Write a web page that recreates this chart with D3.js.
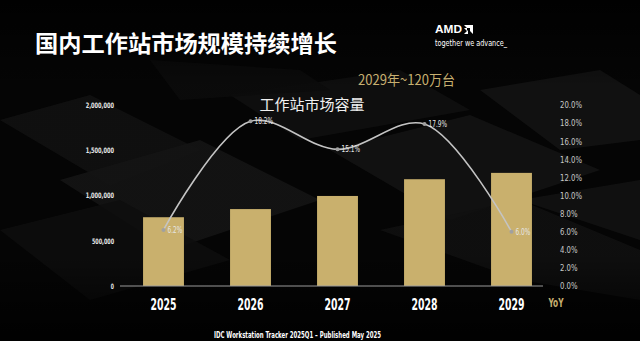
<!DOCTYPE html>
<html><head><meta charset="utf-8">
<script src="https://cdn.jsdelivr.net/npm/d3@7/dist/d3.min.js"></script>
<style>html,body{margin:0;padding:0;background:#050505;}svg{display:block;}</style>
</head><body>
<script>
const years = ["2025","2026","2027","2028","2029"];
const volume = [760000, 850000, 995000, 1180000, 1250000];
const yoy = [6.2, 18.2, 15.1, 17.9, 6.0];
const leftTicks = [0, 500000, 1000000, 1500000, 2000000];
const rightTicks = [0,2,4,6,8,10,12,14,16,18,20];

const W = 640, H = 341;
const NARROW = "DejaVu Sans Condensed, Liberation Sans";
const svg = d3.select("body").append("svg").attr("width", W).attr("height", H);

// background
svg.append("rect").attr("width", W).attr("height", H).attr("fill", "#060606");
const bg = svg.append("g");
const slabs = [
  [[0,120],[90,95],[200,150],[110,185]],
  [[60,180],[200,140],[320,200],[170,250]],
  [[230,95],[400,70],[470,110],[300,140]],
  [[330,150],[470,115],[600,170],[450,220]],
  [[480,90],[600,70],[640,95],[640,140],[560,150]],
  [[0,230],[120,200],[230,260],[90,300]],
  [[380,230],[520,200],[640,250],[640,300],[520,280]],
  [[150,60],[300,70],[330,90],[180,100]],
  [[520,200],[640,180],[640,240]]
];
const fills = ["#151515","#191919","#131313","#171717","#171717","#111111","#141414","#0e0e0e","#161616"];
slabs.forEach((p,i)=>{
  bg.append("polygon").attr("points", p.map(d=>d.join(",")).join(" "))
    .attr("fill", fills[i]).attr("opacity", 0.9);
});
const grad = svg.append("defs").append("linearGradient").attr("id","fade").attr("x1",0).attr("x2",0).attr("y1",0).attr("y2",1);
grad.append("stop").attr("offset","0").attr("stop-color","#000").attr("stop-opacity",0.85);
grad.append("stop").attr("offset","0.25").attr("stop-color","#000").attr("stop-opacity",0.2);
grad.append("stop").attr("offset","0.75").attr("stop-color","#000").attr("stop-opacity",0.2);
grad.append("stop").attr("offset","1").attr("stop-color","#000").attr("stop-opacity",0.9);
svg.append("rect").attr("width",W).attr("height",H).attr("fill","url(#fade)");

// titles
svg.append("text").attr("x", 35).attr("y", 52).text("国内工作站市场规模持续增长")
  .attr("font-family", "Noto Sans CJK SC").attr("font-weight", "bold").attr("font-size", 23)
  .attr("fill", "#fff").attr("textLength", 302).attr("lengthAdjust","spacingAndGlyphs");

// AMD logo
svg.append("text").attr("x", 435).attr("y", 33).text("AMD")
  .attr("font-family", "Liberation Sans").attr("font-weight", "bold").attr("font-size", 11).attr("fill", "#fff")
  .attr("textLength", 27).attr("lengthAdjust","spacingAndGlyphs");
svg.append("path").attr("d", "M464,25 h9 v9 l-3,-3 v-3 h-3 z M464,28 l3,3 v-3 z M468,30 v4 h-4 z")
  .attr("fill", "#fff");
svg.append("text").attr("x", 435).attr("y", 46).text("together we advance_")
  .attr("font-family", NARROW).attr("font-size", 8.5).attr("fill", "#fff")
  .attr("textLength", 72).attr("lengthAdjust","spacingAndGlyphs");

svg.append("text").attr("x", 358).attr("y", 85).text("2029年~120万台")
  .attr("font-family", "Noto Sans CJK SC").attr("font-size", 14).attr("fill", "#c8b070")
  .attr("textLength", 97).attr("lengthAdjust","spacingAndGlyphs");

svg.append("text").attr("x", 312).attr("y", 110).attr("text-anchor","middle").text("工作站市场容量")
  .attr("font-family", "Noto Sans CJK SC").attr("font-size", 15).attr("fill", "#f0f0f0");

// scales
const x = d3.scaleBand().domain(years).range([120, 555]).paddingInner(0.53).paddingOuter(0.265);
const yL = d3.scaleLinear().domain([0, 2000000]).range([286, 105]);
const yR = d3.scaleLinear().domain([0, 20]).range([286, 105]);

// left axis
const axL = svg.append("g").attr("transform","translate(114,0)")
  .call(d3.axisLeft(yL).tickValues(leftTicks).tickSize(0).tickPadding(0).tickFormat(d3.format(",")));
axL.select(".domain").remove();
axL.selectAll("text").attr("font-family",NARROW).attr("font-weight","bold")
  .attr("font-size", 7.5).attr("fill","#e8e8e8")
  .each(function(){ const n=this.textContent.length; d3.select(this).attr("textLength", n*3.15).attr("lengthAdjust","spacingAndGlyphs"); });

// right axis
const axR = svg.append("g").attr("transform","translate(560,0)")
  .call(d3.axisRight(yR).tickValues(rightTicks).tickSize(0).tickPadding(0).tickFormat(d=>d3.format(".1f")(d)+"%"));
axR.select(".domain").remove();
axR.selectAll("text").attr("font-family",NARROW)
  .attr("font-size", 9).attr("fill","#c8c8c8")
  .each(function(){ const n=this.textContent.length; d3.select(this).attr("textLength", n*4.4).attr("lengthAdjust","spacingAndGlyphs"); });

// bars
svg.append("g").selectAll("rect").data(years).join("rect")
  .attr("x", d=>x(d)).attr("width", x.bandwidth())
  .attr("y", (d,i)=>yL(volume[i])).attr("height", (d,i)=>yL(0)-yL(volume[i]))
  .attr("fill", "#c9b06d");

// baseline
svg.append("line").attr("x1",120).attr("x2",543).attr("y1",yL(0)).attr("y2",yL(0))
  .attr("stroke","#9a9a9a").attr("stroke-width",1);

// x labels
const axB = svg.append("g").attr("transform","translate(0,299)")
  .call(d3.axisBottom(x).tickSize(0).tickPadding(0));
axB.select(".domain").remove();
axB.selectAll("text").attr("dy","0.71em").attr("font-family",NARROW)
  .attr("font-weight","bold").attr("font-size", 15).attr("fill","#fff")
  .attr("textLength", 26).attr("lengthAdjust","spacingAndGlyphs");

svg.append("text").attr("x", 556).attr("y", 307).attr("text-anchor","middle").text("YoY")
  .attr("font-family",NARROW).attr("font-weight","bold")
  .attr("font-size", 11.5).attr("fill","#c8b070")
  .attr("textLength", 15).attr("lengthAdjust","spacingAndGlyphs");

// line
const pts = years.map((d,i)=>[x(d)+x.bandwidth()/2, yR(yoy[i])]);
svg.append("path").attr("d", d3.line().curve(d3.curveCatmullRom.alpha(0.5))(pts))
  .attr("fill","none").attr("stroke","#c4c4c4").attr("stroke-width",1.6);
svg.append("g").selectAll("circle").data(pts).join("circle")
  .attr("cx", d=>d[0]).attr("cy", d=>d[1]).attr("r", 2).attr("fill", "#a0a0a0");
svg.append("g").selectAll("text").data(pts).join("text")
  .attr("x", d=>d[0]+4).attr("y", d=>d[1]+3).text((d,i)=>d3.format(".1f")(yoy[i])+"%")
  .attr("font-family",NARROW).attr("font-size", 8.5)
  .attr("fill", "#e6e6e6")
  .each(function(){ const n=this.textContent.length; d3.select(this).attr("textLength", n*3.7).attr("lengthAdjust","spacingAndGlyphs"); });

// footer
svg.append("text").attr("x", 214).attr("y", 338).text("IDC Workstation Tracker 2025Q1 – Published May 2025")
  .attr("font-family",NARROW).attr("font-weight","bold")
  .attr("font-size", 9).attr("fill","#fff").attr("textLength", 167).attr("lengthAdjust","spacingAndGlyphs");
</script>
</body></html>
